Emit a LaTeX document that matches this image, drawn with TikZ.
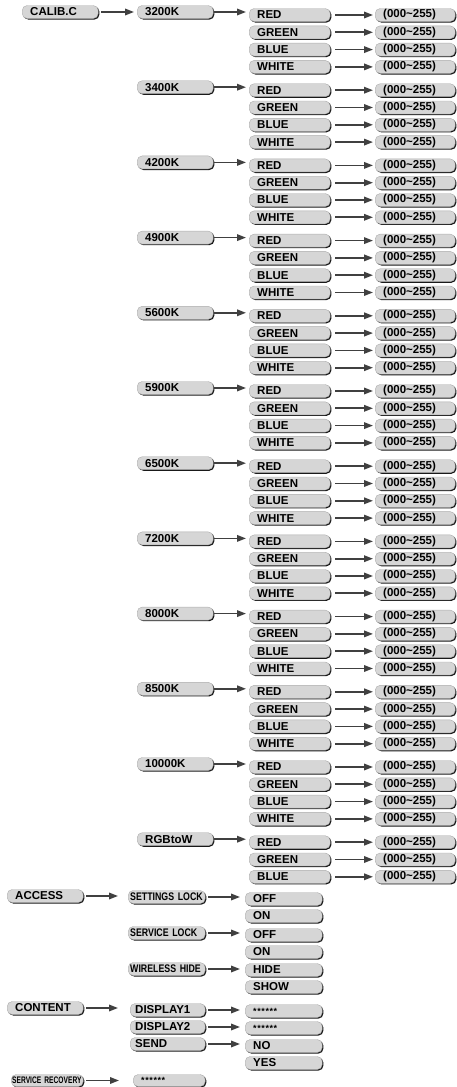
\documentclass[tikz,border=0pt]{standalone}
\usepackage{fontspec}
\setmainfont{Liberation Sans}
\newfontfamily\narrowfont[FakeStretch=0.8]{Liberation Sans}
\newfontfamily\narrowerfont[FakeStretch=0.7]{Liberation Sans}
\usetikzlibrary{shadows,arrows.meta}
\tikzset{
  mbox/.style={rectangle, rounded corners=5pt, fill=gray!32, draw=gray!65, line width=0.4pt,
    general shadow={fill=black!90, shadow xshift=1.2pt, shadow yshift=-1.1pt},
    minimum height=13pt, inner ysep=0pt, inner xsep=8pt, anchor=west, align=left,
    font=\bfseries\fontsize{11.5}{11.5}\selectfont},
  nbox/.style={mbox, inner xsep=2pt, font=\narrowfont\bfseries\fontsize{11}{11}\selectfont},
  arr/.style={draw=gray!50!black, fill=gray!50!black, line width=1.7pt,
    -{Triangle[length=9pt,width=6.5pt]}, shorten <=3pt, shorten >=3pt},
}
\newcommand{\stars}{\raisebox{-2pt}{\fontsize{9}{9}\selectfont *\kern0.6pt*\kern0.6pt*\kern0.6pt*\kern0.6pt*\kern0.6pt*}}
\begin{document}
\begin{tikzpicture}[x=1pt,y=1pt]
\useasboundingbox (0,0) rectangle (457,-1087);
\node[mbox, text width=60pt] (calib) at (22,-12) {CALIB.C};
\foreach \lab [count=\g from 0] in {3200K,3400K,4200K,4900K,5600K,5900K,6500K,7200K,8000K,8500K,10000K,RGBtoW}{
  \pgfmathsetmacro\yr{-(15+75.2*\g)}
  \node[mbox, text width=60pt] (h\g) at (137,\yr+3) {\lab};
  \ifnum\g<11 \def\kids{RED,GREEN,BLUE,WHITE}\else\def\kids{RED,GREEN,BLUE}\fi
  \foreach \c [count=\k] in \kids {
    \node[mbox, text width=65pt] (c\g-\k) at (249,\yr-17.3*\k+17.3) {\c};
    \node[mbox, text width=64pt] (v\g-\k) at (375,\yr-17.3*\k+17.3) {(000\textasciitilde255)};
    \draw[arr, shorten <=5pt, shorten >=2pt] (c\g-\k.east) -- (c\g-\k.east -| v\g-\k.west);
  }
  \draw[arr, shorten <=1pt, shorten >=3pt] (h\g.east) -- (h\g.east -| c\g-1.west);
}
\draw[arr] (calib.east) -- (calib.east -| h0.west);

% ACCESS
\node[mbox, text width=60pt] (access) at (7,-896) {ACCESS};
\node[nbox, text width=73pt] (s1) at (128,-897) {SETTINGS LOCK};
\node[mbox, text width=61pt] (o1) at (245,-899) {OFF};
\node[mbox, text width=61pt] (o2) at (245,-916) {ON};
\node[nbox, text width=73pt] (s2) at (128,-933) {SERVICE LOCK};
\node[mbox, text width=61pt] (o3) at (245,-935) {OFF};
\node[mbox, text width=61pt] (o4) at (245,-952) {ON};
\node[nbox, text width=73pt] (s3) at (128,-969) {WIRELESS HIDE};
\node[mbox, text width=61pt] (o5) at (245,-970) {HIDE};
\node[mbox, text width=61pt] (o6) at (245,-987) {SHOW};
\draw[arr, shorten >=10pt] (access.east) -- (access.east -| s1.west);
\draw[arr, shorten >=5pt] (s1.east) -- (s1.east -| o1.west);
\draw[arr, shorten >=5pt] (s2.east) -- (s2.east -| o3.west);
\draw[arr, shorten >=5pt] (s3.east) -- (s3.east -| o5.west);

% CONTENT
\node[mbox, text width=60pt] (content) at (7,-1008) {CONTENT};
\node[mbox, inner xsep=5pt, text width=65pt] (d1) at (130,-1010) {DISPLAY1};
\node[mbox, text width=61pt] (p1) at (245,-1011) {\stars};
\node[mbox, inner xsep=5pt, text width=65pt] (d2) at (130,-1027) {DISPLAY2};
\node[mbox, text width=61pt] (p2) at (245,-1028) {\stars};
\node[mbox, inner xsep=5pt, text width=65pt] (d3) at (130,-1044) {SEND};
\node[mbox, text width=61pt] (p3) at (245,-1046) {NO};
\node[mbox, text width=61pt] (p4) at (245,-1063) {YES};
\draw[arr, shorten >=12pt] (content.east) -- (content.east -| d1.west);
\draw[arr, shorten >=5pt] (d1.east) -- (d1.east -| p1.west);
\draw[arr, shorten >=5pt] (d2.east) -- (d2.east -| p2.west);
\draw[arr, shorten >=5pt] (d3.east) -- (d3.east -| p3.west);

% SERVICE RECOVERY
\node[mbox, inner xsep=1pt, text width=70pt, minimum height=12pt, font=\narrowerfont\bfseries\fontsize{9.5}{9.5}\selectfont] (rec) at (11,-1080.5) {\mbox{SERVICE RECOVERY}};
\node[mbox, text width=56pt, minimum height=12pt] (p5) at (133,-1080.5) {\stars};
\draw[arr, shorten >=14pt] (rec.east) -- (rec.east -| p5.west);
\end{tikzpicture}
\end{document}
